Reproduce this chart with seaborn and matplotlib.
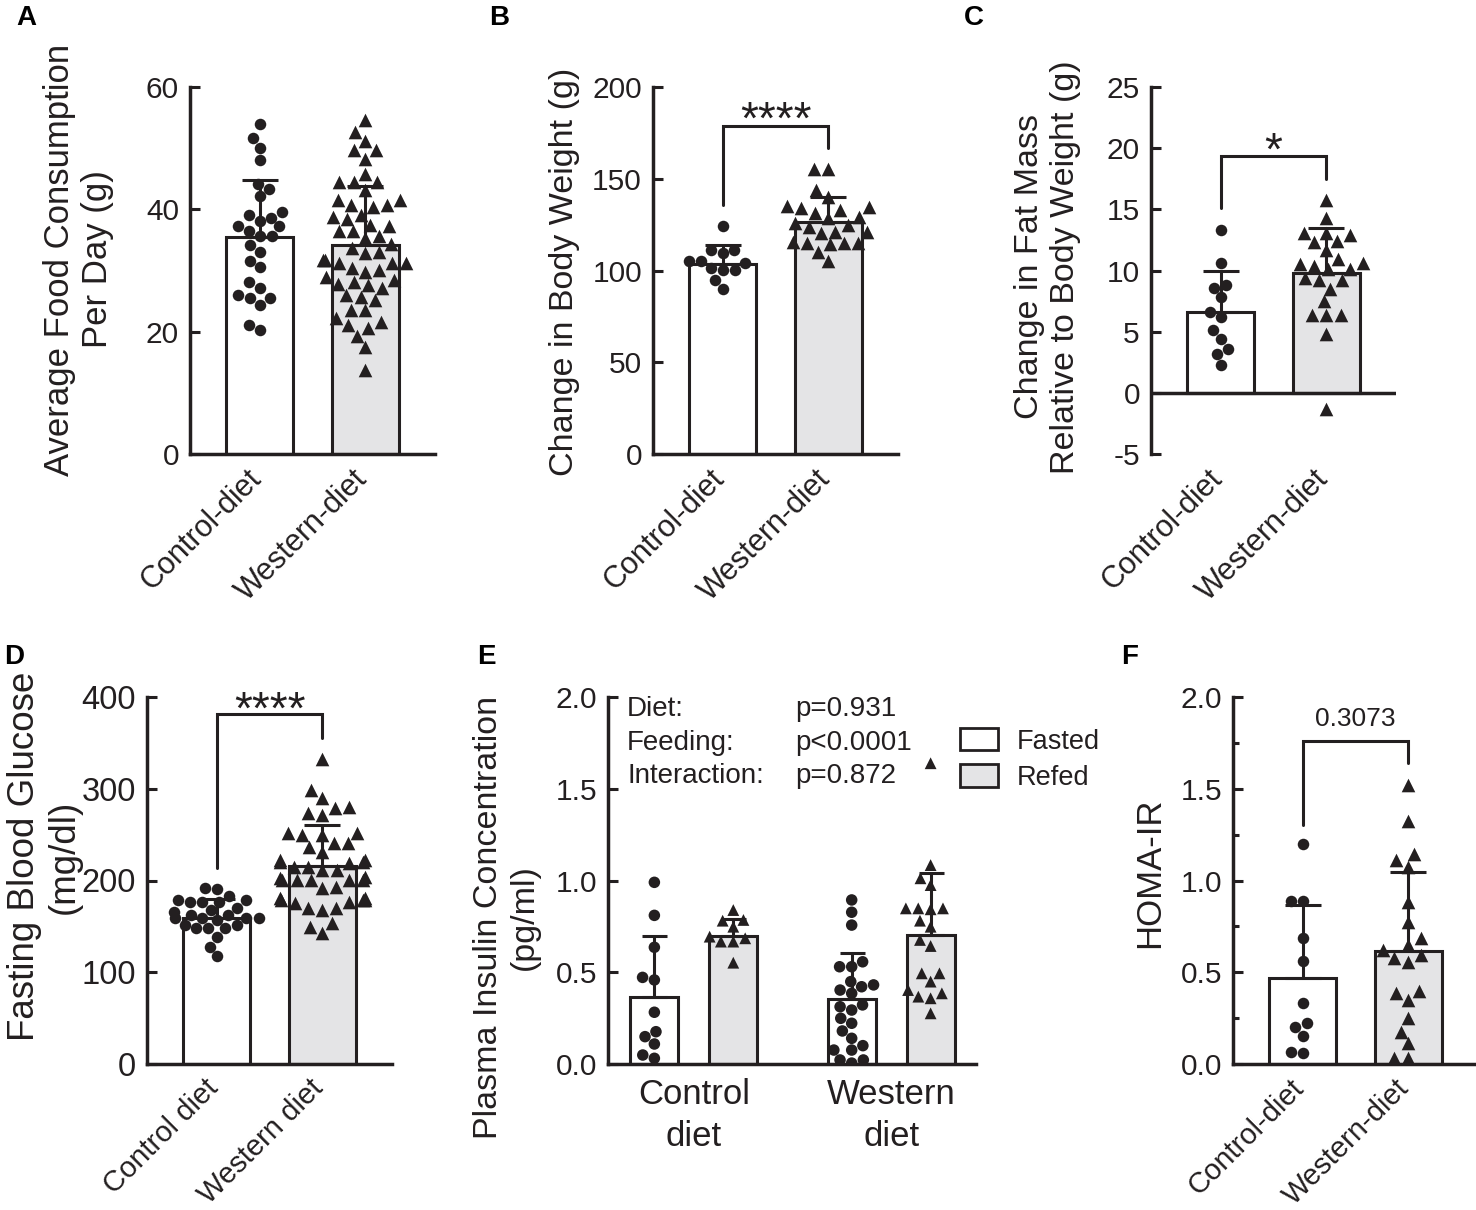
import numpy as np
import pandas as pd
import matplotlib
matplotlib.use("Agg")
import matplotlib.pyplot as plt
import matplotlib.transforms as mtransforms
import seaborn as sns
from matplotlib.patches import Patch
from matplotlib.ticker import MultipleLocator, FormatStrFormatter

sns.set_theme(style="ticks")
plt.rcParams["font.family"] = ["Liberation Sans", "DejaVu Sans"]
plt.rcParams["axes.unicode_minus"] = False

INK = "#231f20"
GREY = "#e4e4e6"

diet_dash = ["Control-diet", "Western-diet"]
diet_space = ["Control diet", "Western diet"]

# A - food consumption (g/day)
a_ctrl = [53.9, 51.7, 50.1, 48.1, 44.1, 43.4, 42.2, 39.5, 37.3, 38.1, 38.6, 39.0, 37.2, 35.7,
          35.7, 36.5, 34.1, 33.0, 31.6, 30.5, 28.2, 27.2, 25.5, 25.5, 26.0, 24.4, 20.3, 21.1]
a_west = [54.6, 52.7, 51.2, 49.7, 49.7, 48.3, 45.7, 44.5, 44.5, 44.5, 43.2, 40.7, 40.3, 40.7,
          41.5, 41.5, 38.8, 38.5, 39.1, 37.4, 37.2, 36.5, 36.5, 35.6, 35.3, 34.4, 33.6, 32.8,
          33.1, 31.7, 31.2, 31.2, 31.2, 31.7, 30.4, 30.1, 29.8, 29.0, 28.2, 28.4, 27.8, 27.6,
          27.1, 25.7, 26.0, 25.2, 23.5, 23.5, 22.2, 21.6, 20.6, 21.1, 19.3, 17.5, 13.7]
a_mean = [35.5, 34.2]
a_sd = [9.3, 9.6]

# B - body weight change (g)
b_ctrl = [124.4, 109.4, 111.2, 111.2, 105.2, 105.2, 103.9, 100.3, 101.2, 100.3, 94.8, 89.9]
b_west = [155.1, 155.1, 143.9, 140.2, 133.0, 134.8, 133.9, 135.1, 129.3, 131.2, 125.7, 128.8,
          123.9, 124.8, 121.1, 120.3, 121.1, 115.7, 114.3, 114.8, 115.2, 115.2, 110.2, 105.2]
b_mean = [103.5, 126.3]
b_sd = [10.4, 13.9]

# C - fat mass change relative to body weight (g)
c_ctrl = [13.3, 10.6, 8.8, 8.6, 7.8, 6.6, 6.2, 5.1, 4.4, 3.6, 3.2, 2.3]
c_west = [15.8, 14.3, 12.9, 13.1, 13.1, 12.3, 12.4, 11.7, 10.9, 10.6, 10.5, 10.4, 10.1, 10.1,
          9.2, 9.4, 9.2, 8.5, 7.5, 6.4, 6.4, 6.4, 4.8, -1.3]
c_mean = [6.58, 9.77]
c_sd = [3.4, 3.68]

# D - fasting blood glucose (mg/dl)
d_ctrl = [191.5, 190.4, 183.5, 176.9, 178.7, 176.9, 178.7, 176.9, 162.4, 167.8, 169.7, 166.0,
          162.4, 156.9, 158.8, 158.8, 158.8, 158.8, 147.9, 151.5, 147.9, 147.9, 151.5, 138.8,
          127.9, 117.7]
d_west = [332.1, 298.6, 289.6, 280.5, 278.7, 271.4, 273.2, 251.5, 249.6, 249.6, 251.5, 236.8,
          240.5, 231.4, 240.5, 222.3, 220.5, 218.7, 220.5, 222.3, 211.4, 215.0, 215.0, 211.4,
          200.5, 200.5, 200.5, 200.5, 200.5, 202.4, 204.1, 193.2, 191.5, 180.6, 176.9, 178.7,
          178.7, 180.6, 178.7, 175.1, 167.8, 169.7, 169.7, 153.3, 149.6, 142.4]
d_mean = [158.8, 215.8]
d_sd = [20.7, 44.6]

# E - plasma insulin (pg/ml), two-way design
e_diet = ["Control\ndiet", "Western\ndiet"]
e_feeding = ["Fasted", "Refed"]
e_ctrl_fasted = [0.99, 0.81, 0.636, 0.472, 0.458, 0.282, 0.176, 0.149, 0.109, 0.031, 0.049]
e_ctrl_refed = [0.839, 0.781, 0.785, 0.748, 0.694, 0.667, 0.667, 0.685, 0.552]
e_west_fasted = [0.894, 0.827, 0.757, 0.557, 0.53, 0.53, 0.449, 0.431, 0.403, 0.385, 0.421,
                 0.312, 0.322, 0.294, 0.249, 0.222, 0.14, 0.076, 0.076, 0.022, 0.005, 0.022,
                 0.18, 0.10]
e_west_refed = [1.639, 1.084, 0.975, 1.012, 0.843, 0.848, 0.848, 0.848, 0.781, 0.748, 0.643,
                0.676, 0.494, 0.494, 0.449, 0.403, 0.385, 0.358, 0.367, 0.276]
e_fasted_mean = [0.367, 0.352]
e_refed_mean = [0.699, 0.703]
e_fasted_sd = [0.332, 0.255]
e_refed_sd = [0.089, 0.336]
e_stats = [("Diet:", "p=0.931"), ("Feeding:", "p<0.0001"), ("Interaction:", "p=0.872")]

# F - HOMA-IR
f_ctrl = [1.197, 0.888, 0.888, 0.685, 0.561, 0.334, 0.225, 0.203, 0.153, 0.058, 0.067]
f_west = [1.52, 1.326, 1.144, 1.112, 1.075, 0.885, 0.775, 0.685, 0.649, 0.594, 0.621, 0.576,
          0.558, 0.398, 0.385, 0.349, 0.249, 0.176, 0.113, 0.031, 0.031]
f_mean = [0.467, 0.618]
f_sd = [0.399, 0.430]

W, H = 1476, 1210
fig = plt.figure(figsize=(W / 100, H / 100), dpi=100)


def px_axes(left, top, right, bottom):
    return fig.add_axes([left / W, 1 - bottom / H, (right - left) / W, (bottom - top) / H])


def style_axis(ax, ylim, ystep, ylabel, label_xy, yfs=24, tfs=21.5, xpad=7):
    sns.despine(ax=ax)
    for side in ["left", "bottom"]:
        ax.spines[side].set_linewidth(2.5)
        ax.spines[side].set_color(INK)
    ax.set_ylim(*ylim)
    ax.yaxis.set_major_locator(MultipleLocator(ystep))
    ax.tick_params(axis="y", direction="in", length=7, width=2.2, labelsize=tfs, pad=8,
                   colors=INK)
    ax.tick_params(axis="x", length=0, pad=xpad, colors=INK)
    ax.set_xlabel("")
    ax.set_ylabel(ylabel, fontsize=yfs, color=INK, linespacing=1.2)
    ax.yaxis.set_label_coords(*label_xy)


def add_sd(ax, sds, capsize):
    bars = sorted(ax.patches, key=lambda p: p.get_x())
    for bar, sd in zip(bars, sds):
        xc = bar.get_x() + bar.get_width() / 2
        ax.errorbar(xc, bar.get_height(), yerr=[[0], [sd]], fmt="none", ecolor=INK,
                    elinewidth=2.2, capsize=capsize, capthick=2.2, zorder=5)


def add_bracket(ax, ys, text, text_y, fs, drop):
    ax.plot([0, 0, 1, 1], [ys[0], ys[1], ys[1], ys[2]], color=INK, lw=2.2,
            clip_on=False, zorder=5, solid_joinstyle="miter")
    ax.annotate(text, xy=(0.5, text_y), xytext=(0, -drop), textcoords="offset points",
                ha="center", va="baseline", fontsize=fs, color=INK, annotation_clip=False)


def two_bar_panel(box, labels, ctrl, west, means, sds, ylim, ystep, ylabel, label_xy,
                  yfs=24, tfs=21.5, xfs=22, bracket=None):
    ax = px_axes(*box)
    bar_df = pd.DataFrame({"group": labels, "value": means})
    sns.barplot(data=bar_df, x="group", y="value", hue="group", order=labels,
                palette=["white", GREY], width=0.635, edgecolor=INK, linewidth=2.2,
                errorbar=None, legend=False, ax=ax, zorder=1)
    for pts, lab, mk, sz in [(ctrl, labels[0], "o", 8.3), (west, labels[1], "^", 9.8)]:
        pts_df = pd.DataFrame({"group": lab, "value": pts})
        sns.swarmplot(data=pts_df, x="group", y="value", order=labels, color=INK,
                      marker=mk, size=sz, linewidth=0, warn_thresh=1, ax=ax, zorder=3)
    add_sd(ax, sds, 13)
    ax.set_xlim(-0.66, 1.66)
    style_axis(ax, ylim, ystep, ylabel, label_xy, yfs, tfs)
    # rotated category labels, nudged left so the text ends under the bar centre
    shift = mtransforms.ScaledTranslation(-13 / 100, 0, fig.dpi_scale_trans)
    for lbl in ax.get_xticklabels():
        lbl.set(rotation=45, ha="right", va="top", rotation_mode="anchor", fontsize=xfs)
        lbl.set_transform(lbl.get_transform() + shift)
    if bracket is not None:
        add_bracket(ax, *bracket)
    return ax


# --- top row ---
two_bar_panel((190, 87, 435, 454), diet_dash, a_ctrl, a_west, a_mean, a_sd, (0, 60), 20,
              "Average Food Consumption\nPer Day (g)", (-0.31, 0.53), yfs=25)

two_bar_panel((653, 87, 898, 454), diet_dash, b_ctrl, b_west, b_mean, b_sd, (0, 200), 50,
              "Change in Body Weight (g)", (-0.30, 0.495), yfs=24.5,
              bracket=([135.7, 178.9, 166.8], "****", 189.2, 33, 19.5))

ax_c = two_bar_panel((1151, 87, 1396, 454), diet_dash, c_ctrl, c_west, c_mean, c_sd,
                     (-5, 25), 5, "Change in Fat Mass\nRelative to Body Weight (g)",
                     (-0.285, 0.51), yfs=24.5,
                     bracket=([15.1, 19.36, 17.5], "*", 20.9, 33, 19.5))
ax_c.spines["bottom"].set_visible(False)
ax_c.axhline(0, color=INK, lw=2.5, zorder=2)

# --- bottom row ---
two_bar_panel((147, 697, 392, 1064), diet_space, d_ctrl, d_west, d_mean, d_sd, (0, 400), 100,
              "Fasting Blood Glucose\n(mg/dl)", (-0.265, 0.565), yfs=26.5, tfs=23.5, xfs=21,
              bracket=([213.3, 381, 355], "****", 400, 33, 19.5))

ax_f = two_bar_panel((1233, 697, 1478, 1064), diet_dash, f_ctrl, f_west, f_mean, f_sd,
                     (0, 2.0), 0.5, "HOMA-IR", (-0.275, 0.52), yfs=25, xfs=21,
                     bracket=([1.302, 1.762, 1.639], "0.3073", 1.893, 19, 7))
ax_f.yaxis.set_major_formatter(FormatStrFormatter("%.1f"))
ax_f.yaxis.set_minor_locator(MultipleLocator(0.25))
ax_f.tick_params(axis="y", which="minor", direction="in", length=4.5, width=2.2, colors=INK)

# E - grouped bars
ax_e = px_axes(608, 697, 976, 1064)
e_bar_df = pd.DataFrame({
    "diet": e_diet * 2,
    "feeding": np.repeat(e_feeding, 2),
    "value": e_fasted_mean + e_refed_mean,
})
sns.barplot(data=e_bar_df, x="diet", y="value", hue="feeding", order=e_diet,
            hue_order=e_feeding, palette=["white", GREY], width=0.8, gap=0.39,
            edgecolor=INK, linewidth=2.2, errorbar=None, legend=False, ax=ax_e, zorder=1)
e_points = [(e_ctrl_fasted, e_diet[0], "Fasted"), (e_west_fasted, e_diet[1], "Fasted"),
            (e_ctrl_refed, e_diet[0], "Refed"), (e_west_refed, e_diet[1], "Refed")]
for feed, mk, sz in [("Fasted", "o", 8.3), ("Refed", "^", 8.5)]:
    rows = [pd.DataFrame({"diet": d, "feeding": f, "value": v}) for v, d, f in e_points if f == feed]
    sns.swarmplot(data=pd.concat(rows), x="diet", y="value", hue="feeding", order=e_diet,
                  hue_order=e_feeding, dodge=True, palette=[INK, INK], marker=mk, size=sz,
                  linewidth=0, legend=False, warn_thresh=1, ax=ax_e, zorder=3)
add_sd(ax_e, [e_fasted_sd[0], e_refed_sd[0], e_fasted_sd[1], e_refed_sd[1]], 9)
ax_e.set_xlim(-0.435, 1.43)
style_axis(ax_e, (0, 2.0), 0.5, "Plasma Insulin Concentration\n(pg/ml)", (-0.185, 0.40),
           yfs=24.5, tfs=21.5, xpad=10)
ax_e.yaxis.set_major_formatter(FormatStrFormatter("%.1f"))
plt.setp(ax_e.get_xticklabels(), fontsize=25, linespacing=1.35)
for i, (name, pval) in enumerate(e_stats):
    y = 0.967 - i * 0.091
    ax_e.text(0.052, y, name, transform=ax_e.transAxes, fontsize=20, color=INK, va="center")
    ax_e.text(0.51, y, pval, transform=ax_e.transAxes, fontsize=20, color=INK, va="center")

handles = [Patch(facecolor=c, edgecolor=INK, linewidth=2) for c in ["white", GREY]]
fig.legend(handles, e_feeding, loc="upper left", bbox_to_anchor=(960 / W, 1 - 728 / H),
           frameon=False, fontsize=19.5, handlelength=1.4, handleheight=0.9,
           handletextpad=0.7, labelspacing=0.35, borderpad=0, borderaxespad=0,
           labelcolor=INK)

# panel letters
for letter, (x, y) in zip("ABCDEF", [(16, 5), (489, 5), (964, 5), (4, 644), (477, 644),
                                     (1121, 644)]):
    fig.text(x / W, 1 - y / H, letter, fontsize=20, fontweight="bold", color="black",
             va="top", ha="left")

fig.savefig("out.png", dpi=100)
